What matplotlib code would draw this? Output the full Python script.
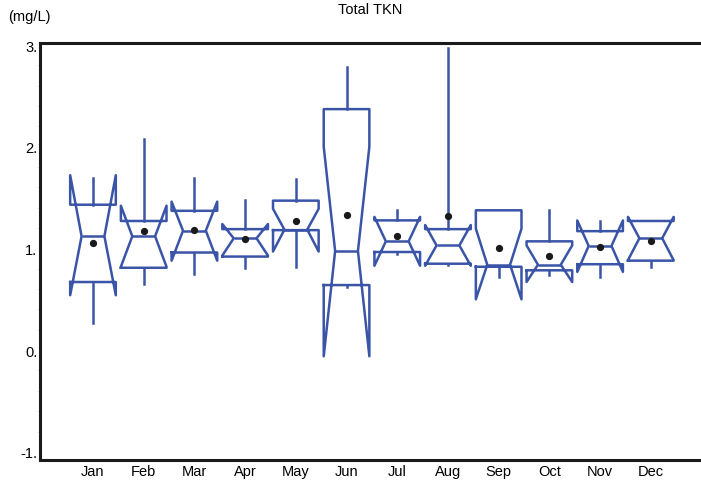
import matplotlib
matplotlib.use("Agg")
import matplotlib.pyplot as plt
from matplotlib.ticker import FixedLocator, MultipleLocator

plt.rcParams['font.family'] = ['Liberation Sans', 'DejaVu Sans']

months = ["Jan", "Feb", "Mar", "Apr", "May", "Jun", "Jul", "Aug", "Sep", "Oct", "Nov", "Dec"]
whis_lo = [0.27, 0.65, 0.745, 0.81, 0.82, 0.62, 0.95, 0.84, 0.72, 0.74, 0.72, 0.82]
q1      = [0.67, 0.81, 0.96, 0.92, 1.18, 0.64, 0.965, 0.85, 0.82, 0.785, 0.845, 0.88]
ci_lo   = [0.54, 0.82, 0.88, 0.93, 0.97, -0.06, 0.83, 0.83, 0.50, 0.67, 0.77, 0.885]
median  = [1.12, 1.12, 1.175, 1.10, 1.185, 0.975, 1.07, 1.03, 0.84, 0.84, 1.025, 1.10]
ci_hi   = [1.72, 1.42, 1.46, 1.24, 1.39, 2.00, 1.31, 1.23, 1.195, 1.03, 1.275, 1.31]
q3      = [1.43, 1.27, 1.37, 1.19, 1.47, 2.37, 1.276, 1.19, 1.375, 1.07, 1.17, 1.27]
whis_hi = [1.69, 2.08, 1.69, 1.48, 1.68, 2.78, 1.375, 2.97, 1.375, 1.375, 1.27, 1.27]
means   = [1.05, 1.175, 1.185, 1.09, 1.27, 1.325, 1.12, 1.32, 1.00, 0.93, 1.01, 1.075]

ytick_vals = [-1, 0, 1, 2, 3]
ytick_labels = ["-1.", "0.", "1.", "2.", "3."]

blue = "#3A55A8"

stats = []
for i in range(len(months)):
    stats.append(dict(label=months[i], whislo=whis_lo[i], q1=q1[i], cilo=ci_lo[i],
                      med=median[i], cihi=ci_hi[i], q3=q3[i], whishi=whis_hi[i],
                      mean=means[i], fliers=[]))

fig = plt.figure(figsize=(7.01, 4.81), dpi=100)
ax = fig.add_axes([40/701, 20/481, 661/701, 417/481])

lw = 1.8
ax.bxp(stats, positions=range(1, 13), widths=0.9, shownotches=True, showmeans=True,
       showcaps=False, showfliers=False,
       boxprops=dict(color=blue, linewidth=lw),
       whiskerprops=dict(color=blue, linewidth=lw),
       medianprops=dict(color=blue, linewidth=lw),
       meanprops=dict(marker='o', markerfacecolor='#1a1a1a', markeredgecolor='#1a1a1a',
                      markersize=4.2))

ax.set_xlim(-0.045, 12.99)
ax.set_ylim(-1.08, 3.02)

for s in ['left', 'top', 'bottom']:
    ax.spines[s].set_linewidth(2.2)
    ax.spines[s].set_color('#1a1a1a')
ax.spines['right'].set_visible(False)

ax.yaxis.set_major_locator(FixedLocator(ytick_vals))
ax.set_yticklabels(ytick_labels)
ax.yaxis.set_minor_locator(MultipleLocator(0.2))
ax.tick_params(axis='y', which='major', length=0, pad=2, labelsize=10.5)
ax.tick_params(axis='y', which='minor', length=2, width=0.5, color='#dddddd')
ax.set_xticks(range(1, 13))
ax.set_xticklabels(months)
ax.tick_params(axis='x', length=0, pad=3, labelsize=10.5)

fig.text(370/701, 1 - 10/481, "Total TKN", ha='center', va='center', fontsize=10.5)
fig.text(8/701, 1 - 17/481, "(mg/L)", ha='left', va='center', fontsize=10.5)

fig.savefig("out.png", dpi=100)
